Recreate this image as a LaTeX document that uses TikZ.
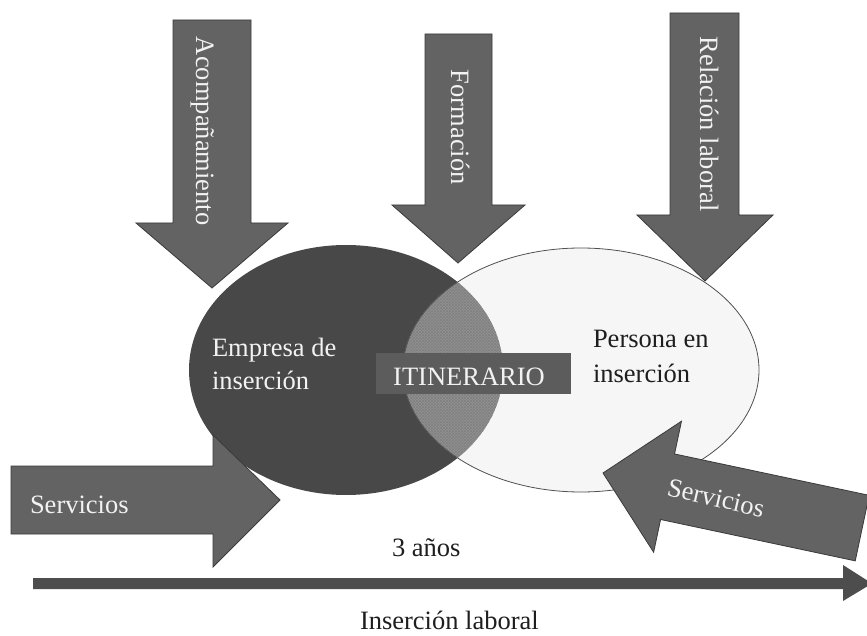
\documentclass[tikz,border=0pt]{standalone}
\usepackage{fontspec}
\setmainfont{Liberation Serif}
\usetikzlibrary{patterns}
\definecolor{arrfill}{HTML}{636363}
\definecolor{arrline}{HTML}{3A3A3A}
\definecolor{darkell}{HTML}{484848}
\definecolor{lightell}{HTML}{F6F6F6}
\definecolor{ellline}{HTML}{505050}
\definecolor{lensfill}{HTML}{929292}
\definecolor{boxfill}{HTML}{5C5C5C}
\definecolor{axisfill}{HTML}{4D4D4D}
\definecolor{txtlight}{HTML}{F2F2F2}
\definecolor{txtdark}{HTML}{1E1E1E}
\tikzset{
  bigarrow/.style={fill=arrfill, draw=arrline, line width=0.8pt, line join=miter},
  lbl/.style={font=\fontsize{26.5}{30}\selectfont, inner sep=0pt, outer sep=0pt},
  lighttxt/.style={lbl, text=txtlight},
  darktxt/.style={lbl, text=txtdark},
}
\begin{document}
\begin{tikzpicture}[x=1pt,y=1pt]
\useasboundingbox (0,0) rectangle (867,635);
\fill[white] (0,0) rectangle (867,635);

% ellipses
\fill[darkell] (346,265) ellipse [x radius=157, y radius=125];
\fill[lightell] (581,265) ellipse [x radius=178, y radius=122];
\begin{scope}
  \clip (346,265) ellipse [x radius=157, y radius=125];
  \fill[lensfill] (581,265) ellipse [x radius=178, y radius=122];
  \fill[pattern=crosshatch, pattern color=black!50] (581,265) ellipse [x radius=178, y radius=122];
\end{scope}
\draw[ellline, line width=0.8pt] (581,265) ellipse [x radius=178, y radius=122];

% down arrows
\draw[bigarrow] (173,615) -- (251,615) -- (251,412) -- (288,412) -- (212,347) -- (136,412) -- (173,412) -- cycle;
\draw[bigarrow] (425,601) -- (492,601) -- (492,430) -- (525,430) -- (458,372) -- (392,430) -- (425,430) -- cycle;
\draw[bigarrow] (670,622) -- (739,622) -- (739,420) -- (773,420) -- (705,354) -- (637,420) -- (670,420) -- cycle;

% left Servicios arrow
\draw[bigarrow] (11,169) -- (213,169) -- (213,200) -- (280,135) -- (213,68) -- (213,101) -- (11,101) -- cycle;

% right Servicios arrow (rotated)
\begin{scope}[shift={(603,162)}, rotate=-12]
  \draw[bigarrow] (0,0) -- (66,67) -- (66,33.5) -- (265,33.5) -- (265,-33.5) -- (66,-33.5) -- (66,-67) -- cycle;
\end{scope}

% long axis arrow
\fill[axisfill] (33,57) -- (843,57) -- (843,70) -- (872,51.5) -- (843,34) -- (843,46) -- (33,46) -- cycle;

% ITINERARIO box
\fill[boxfill] (376,241) rectangle (571,282);
\node[lighttxt, anchor=base] (itin) at (469,249) {ITINERARIO};

% texts
\node[lighttxt, anchor=base west] (emp1) at (212,278) {Empresa de};
\node[lighttxt, anchor=base west] (emp2) at (212,245) {inserción};
\node[darktxt, anchor=base west] (per1) at (593,287) {Persona en};
\node[darktxt, anchor=base west] (per2) at (593,252) {inserción};
\node[lighttxt, anchor=base west] (serv1) at (30,122) {Servicios};
\node[lighttxt, rotate=-13] (serv2) at (716,137) {Servicios};
\node[darktxt, anchor=base west] (anos) at (392,79) {3 años};
\node[darktxt, anchor=base west] (inser) at (360,6) {Inserción laboral};
\node[lighttxt, rotate=-90, anchor=base west] (acomp) at (196,598) {Acompañamiento};
\node[lighttxt, rotate=-90, anchor=base west] (form) at (451,565) {Formación};
\node[lighttxt, rotate=-90, anchor=base west] (rel) at (700,598) {Relación laboral};
\end{tikzpicture}
\end{document}
